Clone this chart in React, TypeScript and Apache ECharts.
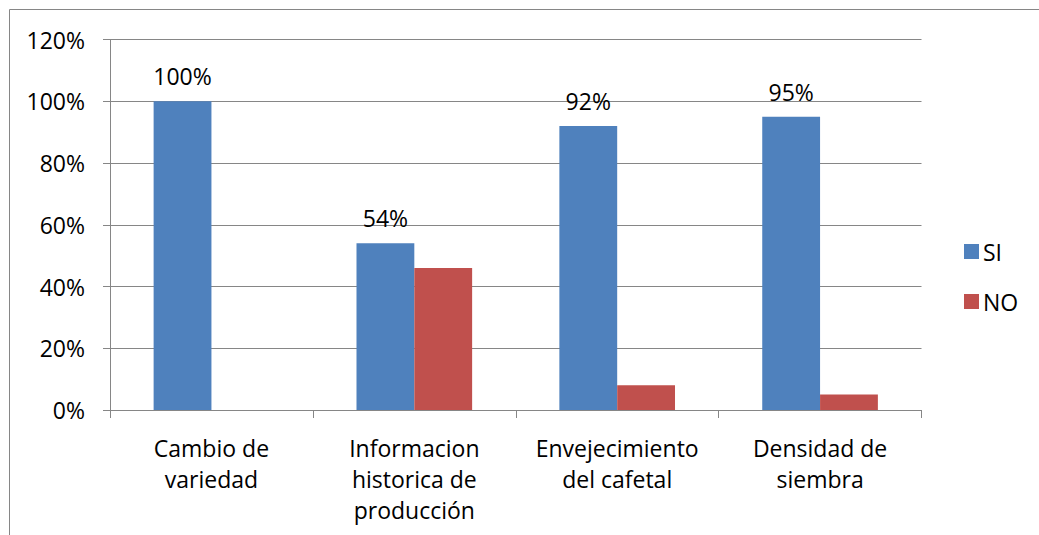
import React, { useEffect, useRef } from "react";
import * as echarts from "echarts";

const categories = [
  "Cambio de\nvariedad",
  "Informacion\nhistorica de\nproducción",
  "Envejecimiento\ndel cafetal",
  "Densidad de\nsiembra",
];
const siValues = [100, 54, 92, 95];
const noValues = [0, 46, 8, 5];
const seriesNames = ["SI", "NO"];

const FONT = "Open Sans";
const GRAY = "#868686";
const FS = 23;

export default function App() {
  const ref = useRef<HTMLDivElement>(null);
  useEffect(() => {
    if (!ref.current) return;
    const chart = echarts.init(ref.current, undefined, { renderer: "svg" });
    chart.setOption({
      animation: false,
      backgroundColor: "#ffffff",
      textStyle: { fontFamily: FONT },
      graphic: [
        {
          type: "rect",
          shape: { x: 9.5, y: 9.5, width: 1200, height: 700 },
          style: { fill: "none", stroke: GRAY, lineWidth: 1 },
          silent: true,
        },
      ],
      grid: { left: 110, right: 117.5, top: 39.5, bottom: 125, containLabel: false },
      legend: {
        orient: "vertical",
        left: 964,
        top: 240,
        padding: 0,
        itemWidth: 15,
        itemHeight: 15,
        itemGap: 27,
        icon: "rect",
        textStyle: { fontFamily: FONT, fontSize: FS, color: "#000", lineHeight: 22, padding: [0, 0, 0, -1] },
        data: seriesNames,
      },
      xAxis: {
        type: "category",
        data: categories,
        axisLine: { lineStyle: { color: GRAY, width: 1 } },
        axisTick: { show: true, alignWithLabel: false, length: 8, lineStyle: { color: GRAY } },
        axisLabel: {
          interval: 0,
          margin: 22,
          fontFamily: FONT,
          fontSize: FS,
          lineHeight: 31,
          color: "#000",
        },
      },
      yAxis: {
        type: "value",
        min: 0,
        max: 120,
        interval: 20,
        axisLine: { show: true, lineStyle: { color: GRAY, width: 1 } },
        axisTick: { show: true, length: 7, lineStyle: { color: GRAY } },
        splitLine: { lineStyle: { color: GRAY, width: 1 } },
        axisLabel: {
          formatter: "{value}%",
          margin: 25,
          fontFamily: FONT,
          fontSize: FS,
          color: "#000",
        },
      },
      series: [
        {
          name: seriesNames[0],
          type: "bar",
          data: siValues,
          barGap: "0%",
          barCategoryGap: "43%",
          itemStyle: { color: "#4F81BD" },
          label: {
            show: true,
            position: "top",
            distance: 12,
            formatter: "{c}%",
            fontFamily: FONT,
            fontSize: FS,
            lineHeight: 26,
            color: "#000",
          },
        },
        {
          name: seriesNames[1],
          type: "bar",
          data: noValues,
          barGap: "0%",
          barCategoryGap: "43%",
          itemStyle: { color: "#C0504D" },
        },
      ],
    });
    return () => chart.dispose();
  }, []);
  return (
    <div
      ref={ref}
      style={{ position: "fixed", left: 0, top: 0, width: 1039, height: 535, background: "#fff" }}
    />
  );
}
